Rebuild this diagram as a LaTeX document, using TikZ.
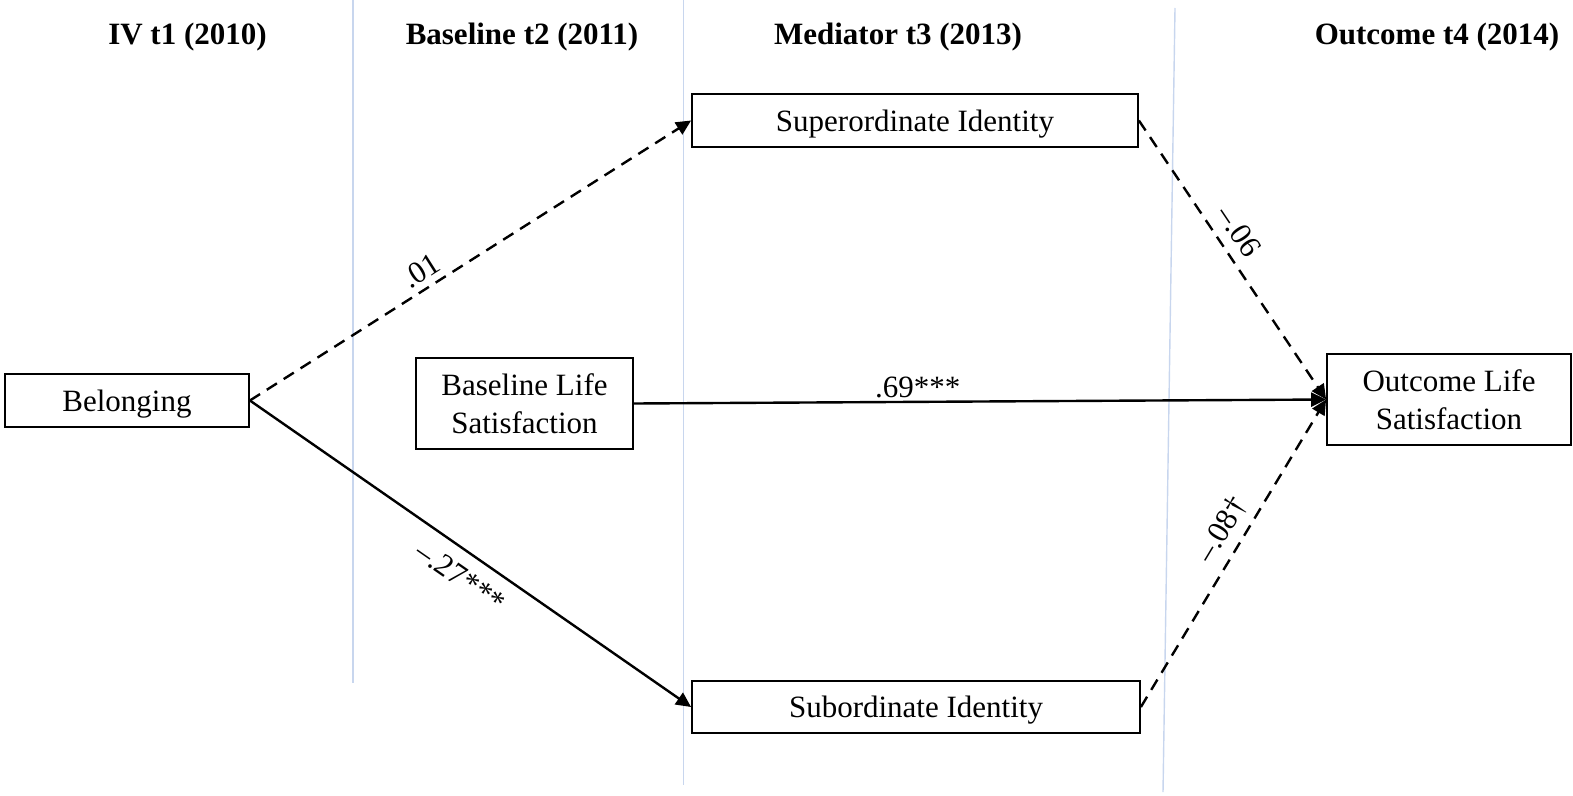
\documentclass[tikz,border=0pt]{standalone}
\usepackage{fontspec}
\setmainfont{Liberation Serif}
\usetikzlibrary{arrows.meta}
\definecolor{guide}{RGB}{200,214,238}
\tikzset{
  box/.style={draw=black, line width=1.8pt, inner sep=0pt, align=center,
    text depth=0pt, font=\fontsize{31}{38}\selectfont},
  hdr/.style={font=\fontsize{31}{34}\selectfont\bfseries, inner sep=0pt},
  lbl/.style={font=\fontsize{31}{34}\selectfont, inner sep=6pt},
  conn/.style={line width=2.4pt, -{Triangle[length=15pt,width=14pt]}},
  dconn/.style={conn, dash pattern=on 12pt off 8pt},
  guideline/.style={draw=guide, line width=1.4pt}
}
\begin{document}
\begin{tikzpicture}[x=1pt,y=-1pt]
\useasboundingbox (0,0) rectangle (1573,795);
% guide lines
\coordinate (g1a) at (353,0);   \coordinate (g1b) at (353,683);
\coordinate (g2a) at (683.5,0); \coordinate (g2b) at (683.5,785);
\coordinate (g3a) at (1175,8);  \coordinate (g3b) at (1163,792);
\draw[guideline] (g1a) -- (g1b);
\draw[guideline] (g2a) -- (g2b);
\draw[guideline] (g3a) -- (g3b);
% headers
\node[hdr] (h1) at (187.5,37) {IV t1 (2010)};
\node[hdr] (h2) at (522,37) {Baseline t2 (2011)};
\node[hdr] (h3) at (898,37) {Mediator t3 (2013)};
\node[hdr] (h4) at (1437,37) {Outcome t4 (2014)};
% boxes
\node[box, minimum width=244pt, minimum height=53pt] (bel) at (127,400.5) {Belonging};
\node[box, minimum width=217pt, minimum height=91pt] (base) at (524.5,403.5) {Baseline Life\\Satisfaction};
\node[box, minimum width=446pt, minimum height=53pt] (sup) at (915,120.5) {Superordinate Identity};
\node[box, minimum width=448pt, minimum height=52pt] (sub) at (916,707) {Subordinate Identity};
\node[box, minimum width=244pt, minimum height=91pt] (out) at (1449,399.5) {Outcome Life\\Satisfaction};
% connectors
\draw[dconn] (bel.east) -- node[lbl, sloped, above, pos=0.41] {.01} (sup.west);
\draw[conn] (bel.east) -- node[lbl, sloped, below, pos=0.51, inner sep=13pt] {–.27***} (sub.west);
\draw[conn] (base.east) -- node[lbl, above, pos=0.41, inner sep=3pt] {.69***} (out.west);
\draw[dconn] (sup.east) -- node[lbl, sloped, above, pos=0.44, inner sep=10pt] {–.06} (out.west);
\draw[dconn] (sub.east) -- node[lbl, sloped, above, pos=0.54, inner sep=8pt] {–.08†} (out.west);
\end{tikzpicture}
\end{document}
